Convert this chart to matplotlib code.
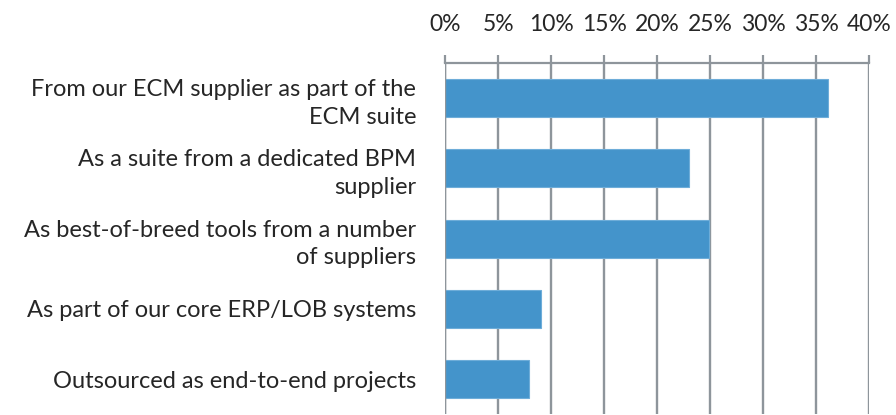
import numpy as np
import matplotlib
matplotlib.use('Agg')
import matplotlib.pyplot as plt

# data
categories = ['From our ECM supplier as part of the\nECM suite',
              'As a suite from a dedicated BPM\nsupplier',
              'As best-of-breed tools from a number\nof suppliers',
              'As part of our core ERP/LOB systems',
              'Outsourced as end-to-end projects']
values = [36.1, 23.0, 24.9, 9.0, 7.9]
ticks = [0, 5, 10, 15, 20, 25, 30, 35, 40]
tick_labels = ['%d%%' % t for t in ticks]

plt.rcParams['font.family'] = ['Lato', 'DejaVu Sans']

fig = plt.figure(figsize=(8.96, 4.15), dpi=100)
ax = fig.add_axes([0.497, 0.0015, 0.473, 0.8475])

y = np.arange(len(categories))
ax.barh(y, values, height=0.54, color='#4494CB', edgecolor='#6EADD9', linewidth=0.8, zorder=3)
ax.set_ylim(len(categories) - 0.5, -0.5)
ax.set_xlim(0, 40)

ax.xaxis.tick_top()
ax.set_xticks(ticks)
ax.set_xticklabels(tick_labels)
ax.tick_params(axis='x', length=6, width=1.6, color='#8E959B', pad=14,
               labelsize=16.5, labelcolor='#262626')
ax.set_yticks(y)
ax.set_yticklabels(categories, linespacing=1.4)
ax.tick_params(axis='y', length=0, pad=21, labelsize=17, labelcolor='#262626')

ax.grid(axis='x', color='#8E959B', linewidth=1.7, zorder=0)
for s in ['bottom', 'right', 'left']:
    ax.spines[s].set_visible(False)
ax.spines['top'].set_color('#8E959B')
ax.spines['top'].set_linewidth(1.6)
ax.axvline(0, color='#8E959B', linewidth=1.7, zorder=4)

fig.savefig('out.png', dpi=100)
